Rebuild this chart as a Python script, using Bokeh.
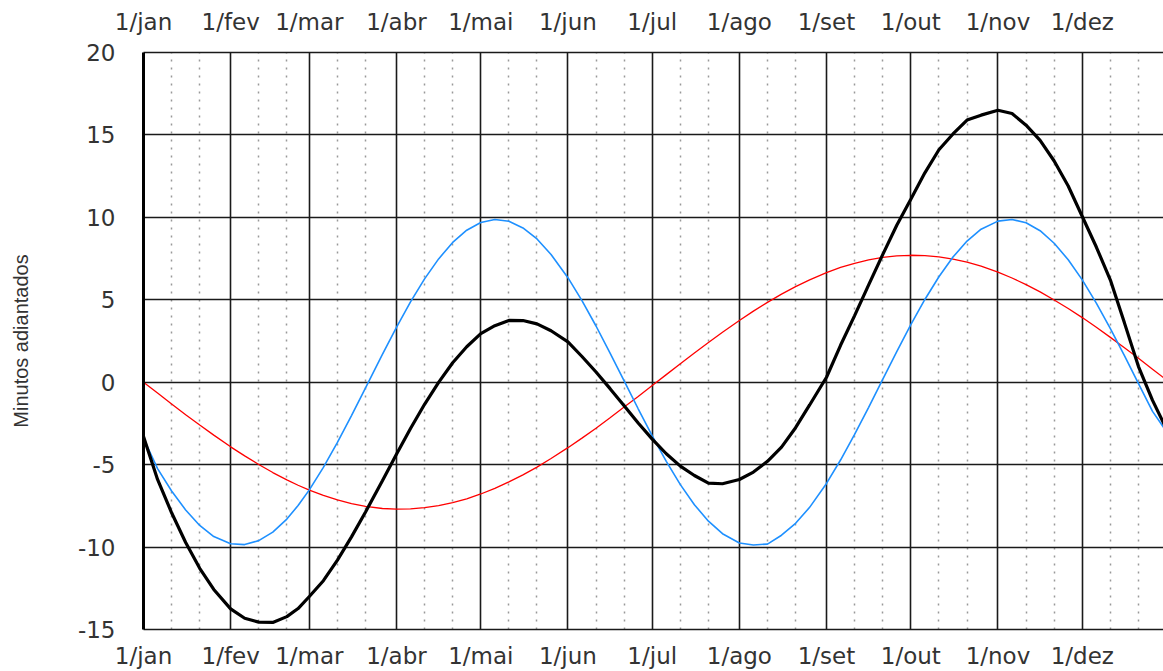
from bokeh.plotting import figure
from bokeh.models import Range1d, FixedTicker, LinearAxis, Grid
from bokeh.embed import file_html
from bokeh.resources import INLINE

# day of year (0 = 1 Jan), roughly every 5 days
days = [0, 5, 10, 15, 20, 25,
        31, 36, 41, 46, 51, 55,
        59, 64, 69, 74, 79, 85,
        90, 95, 100, 105, 110, 115,
        120, 125, 130, 135, 140, 145,
        151, 156, 161, 166, 171, 176,
        181, 186, 191, 196, 201, 206,
        212, 217, 222, 227, 232, 237,
        243, 248, 253, 258, 263, 268,
        273, 278, 283, 288, 293, 298,
        304, 309, 314, 319, 324, 329,
        334, 339, 344, 349, 354, 359, 364]

# eccentricity component (red)
red = [0.0, -0.66, -1.32, -1.97, -2.60, -3.21,
       -3.92, -4.47, -4.99, -5.48, -5.92, -6.25,
       -6.54, -6.87, -7.14, -7.36, -7.53, -7.66,
       -7.70, -7.68, -7.61, -7.49, -7.30, -7.07,
       -6.78, -6.44, -6.05, -5.62, -5.15, -4.63,
       -3.97, -3.39, -2.79, -2.16, -1.51, -0.86,
       -0.20, 0.46, 1.12, 1.77, 2.41, 3.03,
       3.74, 4.31, 4.84, 5.34, 5.80, 6.21,
       6.65, 6.96, 7.21, 7.42, 7.57, 7.66,
       7.70, 7.68, 7.60, 7.47, 7.28, 7.04,
       6.68, 6.32, 5.92, 5.48, 4.99, 4.47,
       3.92, 3.33, 2.72, 2.09, 1.45, 0.79, 0.13]

# obliquity component (blue)
blue = [-3.4, -5.24, -6.60, -7.75, -8.69, -9.36,
        -9.80, -9.85, -9.61, -9.09, -8.30, -7.48,
        -6.53, -5.17, -3.65, -2.02, -0.34, 1.69,
        3.33, 4.87, 6.27, 7.48, 8.48, 9.22,
        9.69, 9.87, 9.76, 9.36, 8.69, 7.75,
        6.34, 4.95, 3.41, 1.77, 0.08, -1.61,
        -3.25, -4.80, -6.21, -7.43, -8.43, -9.19,
        -9.75, -9.87, -9.82, -9.28, -8.56, -7.59,
        -6.14, -4.72, -3.17, -1.52, 0.17, 1.86,
        3.49, 5.02, 6.40, 7.59, 8.56, 9.28,
        9.77, 9.87, 9.67, 9.19, 8.43, 7.43,
        6.21, 4.80, 3.25, 1.61, -0.08, -1.77, -3.0]

# equation of time (black)
black = [-3.3, -5.90, -7.92, -9.72, -11.29, -12.57,
         -13.75, -14.32, -14.55, -14.57, -14.22, -13.73,
         -13.0, -12.04, -10.79, -9.38, -7.87, -5.97,
         -4.37, -2.81, -1.34, -0.01, 1.18, 2.15,
         2.95, 3.43, 3.75, 3.74, 3.54, 3.12,
         2.45, 1.56, 0.62, -0.39, -1.43, -2.47,
         -3.45, -4.34, -5.09, -5.66, -6.12, -6.16,
         -5.9, -5.45, -4.8, -3.94, -2.76, -1.38,
         0.3, 2.24, 4.04, 5.90, 7.74, 9.52,
         11.1, 12.70, 14.1, 15.06, 15.9, 16.2,
         16.5, 16.3, 15.59, 14.67, 13.42, 11.90,
         10.05, 8.2, 6.2, 3.6, 0.95, -1.1, -2.85]

month_days = [0, 31, 59, 90, 120, 151, 181, 212, 243, 273, 304, 334]
month_labels = ["1/jan", "1/fev", "1/mar", "1/abr", "1/mai", "1/jun",
                "1/jul", "1/ago", "1/set", "1/out", "1/nov", "1/dez"]
minor_days = [10, 20, 41, 51, 69, 79, 100, 110, 130, 140, 161, 171, 191, 201,
              222, 232, 253, 263, 283, 293, 314, 324, 344, 354]
y_ticks = [-15, -10, -5, 0, 5, 10, 15, 20]
y_labels = ["-15", "-10", "-5", "0", "5", "10", "15", "20"]

GRID = "#1a1a1a"
TXT = "#333333"

p = figure(width=1163, height=671, output_backend="svg", toolbar_location=None,
           x_range=Range1d(0, 362.9), y_range=Range1d(-15, 20),
           x_axis_location=None, y_axis_location=None,
           min_border_left=143, min_border_right=0, min_border_top=52, min_border_bottom=40)
p.outline_line_color = None
p.background_fill_color = "white"
p.border_fill_color = "white"
for g in p.grid:
    g.visible = False

xgrid = Grid(dimension=0, ticker=FixedTicker(ticks=month_days, minor_ticks=minor_days),
             grid_line_color=GRID, grid_line_width=1.6,
             minor_grid_line_color="#999999", minor_grid_line_width=1.5,
             minor_grid_line_dash="2 6")
ygrid = Grid(dimension=1, ticker=FixedTicker(ticks=y_ticks),
             grid_line_color=GRID, grid_line_width=1.6)
p.add_layout(xgrid)
p.add_layout(ygrid)

x_over = {d: lab for d, lab in zip(month_days, month_labels)}
y_over = {t: lab for t, lab in zip(y_ticks, y_labels)}


def make_xaxis(standoff):
    ax = LinearAxis(ticker=FixedTicker(ticks=month_days), major_label_overrides=x_over)
    ax.major_tick_line_color = None
    ax.minor_tick_line_color = None
    ax.major_tick_out = 0
    ax.major_tick_in = 0
    ax.axis_line_color = GRID
    ax.axis_line_width = 1.6
    ax.major_label_text_font = "DejaVu Sans"
    ax.major_label_text_font_size = "23px"
    ax.major_label_text_color = TXT
    ax.major_label_standoff = standoff
    return ax


p.add_layout(make_xaxis(13), "below")
p.add_layout(make_xaxis(18), "above")

yax = LinearAxis(ticker=FixedTicker(ticks=y_ticks), major_label_overrides=y_over)
yax.major_tick_line_color = None
yax.minor_tick_line_color = None
yax.major_tick_out = 0
yax.major_tick_in = 0
yax.axis_line_color = "black"
yax.axis_line_width = 3
yax.major_label_text_font = "DejaVu Sans"
yax.major_label_text_font_size = "23px"
yax.major_label_text_color = TXT
yax.major_label_standoff = 28
yax.axis_label = "Minutos adiantados"
yax.axis_label_text_font = "Liberation Sans"
yax.axis_label_text_font_size = "20px"
yax.axis_label_text_font_style = "normal"
yax.axis_label_text_color = TXT
yax.axis_label_standoff = 43
p.add_layout(yax, "left")

p.line(days, red, line_color="#ff0000", line_width=1.3)
p.line(days, blue, line_color="#1e90ff", line_width=1.6)
p.line(days, black, line_color="black", line_width=3.2)

open("out.html", "w").write(file_html(p, INLINE))
